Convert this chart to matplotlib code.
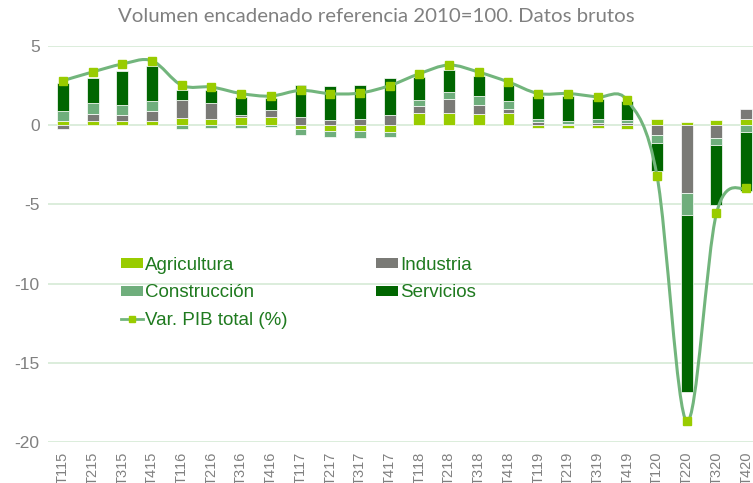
import matplotlib
matplotlib.use("Agg")
import matplotlib.pyplot as plt
import numpy as np
from matplotlib.path import Path
from matplotlib.patches import PathPatch, Patch
from matplotlib.lines import Line2D

plt.rcParams['axes.unicode_minus'] = False

quarters = ['T115', 'T215', 'T315', 'T415', 'T116', 'T216', 'T316', 'T416',
            'T117', 'T217', 'T317', 'T417', 'T118', 'T218', 'T318', 'T418',
            'T119', 'T219', 'T319', 'T419', 'T120', 'T220', 'T320', 'T420']

agricultura = [0.25, 0.29, 0.29, 0.29, 0.46, 0.42, 0.52, 0.52,
               -0.21, -0.34, -0.38, -0.42, 0.78, 0.78, 0.73, 0.78,
               -0.15, -0.20, -0.15, -0.27, 0.36, 0.23, 0.31, 0.40]
industria = [-0.23, 0.40, 0.34, 0.59, 1.15, 0.99, 0.10, 0.42,
             0.50, 0.31, 0.36, 0.67, 0.42, 0.90, 0.57, 0.27,
             0.21, 0.10, 0.17, 0.15, -0.63, -4.26, -0.78, 0.62]
construccion = [0.67, 0.71, 0.67, 0.67, -0.25, -0.20, -0.15, -0.12,
                -0.38, -0.40, -0.40, -0.30, 0.42, 0.42, 0.52, 0.50,
                0.15, 0.17, 0.19, 0.15, -0.52, -1.40, -0.48, -0.40]
servicios = [1.74, 1.57, 2.14, 2.16, 0.63, 0.80, 1.15, 0.80,
             2.05, 2.18, 2.20, 2.30, 1.40, 1.40, 1.30, 0.96,
             1.49, 1.57, 1.32, 1.25, -1.72, -11.17, -3.77, -3.75]
pib_total = [2.81, 3.36, 3.86, 4.07, 2.52, 2.41, 2.00, 1.84,
             2.20, 1.99, 2.03, 2.50, 3.25, 3.80, 3.35, 2.73,
             2.00, 2.00, 1.78, 1.57, -3.20, -18.70, -5.57, -3.98]

series_names = ['Agricultura', 'Industria', 'Construcción', 'Servicios']
series_colors = ['#99cc00', '#7a7a76', '#6fae7c', '#006600']
line_color = '#72b57c'
marker_color = '#99cc00'
text_green = '#1f7a1f'
grey = '#808080'
grid_color = '#d6ead6'

W, H = 753, 483
fig = plt.figure(figsize=(W / 100, H / 100), dpi=100)
ax_left, ax_right, ax_top, ax_bottom = 48, 761, 46, 442
ax = fig.add_axes([ax_left / W, (H - ax_bottom) / H,
                   (ax_right - ax_left) / W, (ax_bottom - ax_top) / H])

x = np.arange(len(quarters))
pos_bottom = np.zeros(len(x))
neg_bottom = np.zeros(len(x))
for vals, col in zip([agricultura, industria, construccion, servicios], series_colors):
    v = np.array(vals)
    b = np.where(v >= 0, pos_bottom, neg_bottom)
    ax.bar(x, v, width=0.4, bottom=b, color=col, edgecolor='white',
           linewidth=0.5, zorder=2)
    pos_bottom = pos_bottom + np.where(v >= 0, v, 0)
    neg_bottom = neg_bottom + np.where(v < 0, v, 0)

# smoothed line (Catmull-Rom as Bezier)
y = np.array(pib_total)
n = len(x)
verts = [(x[0], y[0])]
codes = [Path.MOVETO]
for i in range(n - 1):
    p0 = np.array([x[max(i - 1, 0)], y[max(i - 1, 0)]])
    p1 = np.array([x[i], y[i]])
    p2 = np.array([x[i + 1], y[i + 1]])
    p3 = np.array([x[min(i + 2, n - 1)], y[min(i + 2, n - 1)]])
    c1 = p1 + (p2 - p0) / 6.0
    c2 = p2 - (p3 - p1) / 6.0
    verts += [tuple(c1), tuple(c2), tuple(p2)]
    codes += [Path.CURVE4] * 3
ax.add_patch(PathPatch(Path(verts, codes), facecolor='none', edgecolor=line_color,
                       linewidth=2.2, zorder=3, capstyle='round'))
ax.plot(x, y, linestyle='none', marker='s', markersize=6, color=marker_color,
        markeredgecolor=marker_color, zorder=4)

ax.set_xlim(-0.5, len(x) - 0.5)
ax.set_ylim(-20, 5)
ax.set_yticks([5, 0, -5, -10, -15, -20])
ax.yaxis.grid(True, color=grid_color, linewidth=1.2, zorder=0)
ax.set_axisbelow(True)
for s in ax.spines.values():
    s.set_visible(False)
ax.tick_params(axis='both', length=0)
ax.tick_params(axis='y', labelsize=12.5, labelcolor=grey, pad=6)
ax.set_xticks(x)
ax.set_xticklabels(quarters, rotation=90, fontsize=10.5, color=grey)
ax.tick_params(axis='x', pad=7)
for lab in ax.get_xticklabels() + ax.get_yticklabels():
    lab.set_fontfamily('Liberation Sans')

fig.text(0.5, 1 - 16 / H, 'Volumen encadenado referencia 2010=100. Datos brutos',
         ha='center', va='center', fontsize=14.7, color=grey, family='Lato')

handles = [
    Patch(facecolor=series_colors[0], edgecolor='none', label='Agricultura'),
    Patch(facecolor=series_colors[2], edgecolor='none', label='Construcción'),
    Line2D([], [], color=line_color, linewidth=2, marker='s', markersize=5,
           markerfacecolor=marker_color, markeredgecolor=marker_color,
           label='Var. PIB total (%)'),
    Patch(facecolor=series_colors[1], edgecolor='none', label='Industria'),
    Patch(facecolor=series_colors[3], edgecolor='none', label='Servicios'),
]
leg = fig.legend(handles=handles, ncol=2, loc='upper left',
                 bbox_to_anchor=(121 / W, 1 - 257 / H), frameon=False,
                 prop={'family': 'Liberation Sans', 'size': 13.5},
                 handlelength=1.15, handleheight=0.45, handletextpad=0.15,
                 labelspacing=0.55, columnspacing=4.7, borderpad=0,
                 borderaxespad=0)
for t in leg.get_texts():
    t.set_color(text_green)

fig.savefig('out.png', dpi=100)
